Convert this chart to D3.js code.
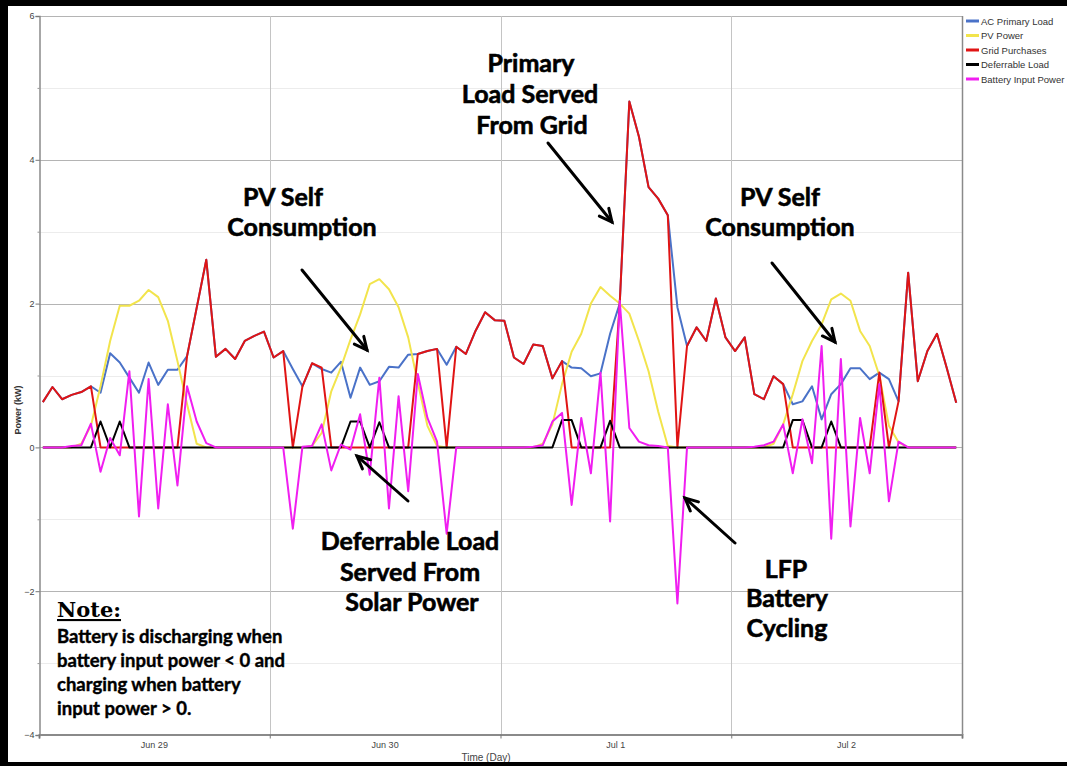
<!DOCTYPE html>
<html><head><meta charset="utf-8">
<script src="https://cdn.jsdelivr.net/npm/d3@7"></script>
<style>body{margin:0;background:#fff}svg{display:block}</style>
</head><body>
<svg id="c" width="1067" height="766"></svg>
<script>
// ---- DATA (hourly, Jun 29 00:00 .. Jul 2 23:00) ----
const dayLabels = ["Jun 29", "Jun 30", "Jul 1", "Jul 2"];
const yTicks = [-4, -2, 0, 2, 4, 6];
const seriesNames = ["AC Primary Load", "PV Power", "Grid Purchases", "Deferrable Load", "Battery Input Power"];

const acPrimaryLoad = [
 0.63,0.84,0.67,0.73,0.77,0.85,0.76,1.31,1.18,0.97,0.76,1.18,0.87,1.08,1.08,1.27,1.94,2.61,1.26,1.37,1.23,1.48,1.55,1.61,
 1.25,1.34,1.09,0.85,1.17,1.09,1.04,1.19,0.69,1.11,0.87,0.92,1.12,1.11,1.29,1.30,1.34,1.37,1.15,1.40,1.30,1.62,1.88,1.77,
 1.76,1.25,1.16,1.43,1.41,0.96,1.20,1.11,1.10,0.99,1.03,1.58,2.00,4.81,4.32,3.62,3.46,3.23,1.95,1.41,1.67,1.48,2.07,1.53,
 1.34,1.53,0.74,0.67,0.99,0.88,0.60,0.64,0.85,0.39,0.74,0.88,1.10,1.10,0.95,1.04,0.95,0.64,2.43,0.92,1.34,1.58,1.11,0.62];
const pvPower = [
 0,0,0,0,0.05,0.30,0.85,1.48,1.97,1.97,2.04,2.19,2.09,1.76,1.20,0.60,0.05,0,0,0,0,0,0,0,
 0,0,0,0,0.02,0.20,0.78,1.11,1.50,1.85,2.27,2.34,2.20,1.95,1.53,0.90,0.30,0.02,0,0,0,0,0,0,
 0,0,0,0,0.05,0.32,0.88,1.33,1.58,2.00,2.23,2.11,2.00,1.86,1.48,1.06,0.50,0.02,0,0,0,0,0,0,
 0,0,0,0,0.05,0.32,0.74,1.20,1.48,1.71,2.06,2.14,2.04,1.62,1.41,1.00,0.30,0.07,0,0,0,0,0,0];
const gridPurchases = [
 0.63,0.84,0.67,0.73,0.77,0.85,0,0,0,0,0,0,0,0,0,1.27,1.94,2.61,1.26,1.37,1.23,1.48,1.55,1.61,
 1.25,1.34,0,0.85,1.17,1.11,0,0,0,0,0,0,0,0,0,1.30,1.34,1.37,0,1.40,1.30,1.62,1.88,1.77,
 1.76,1.25,1.16,1.43,1.41,0.96,1.20,0,0,0,0,0,2.00,4.81,4.32,3.62,3.46,3.23,0,1.41,1.67,1.48,2.07,1.53,
 1.34,1.53,0.74,0.67,0.99,0.88,0,0,0,0,0,0,0,0,0,1.04,0,0.64,2.43,0.92,1.34,1.58,1.11,0.62];
const deferrableLoad = [
 0,0,0,0,0,0,0.36,0,0.36,0,0,0,0,0,0,0,0,0,0,0,0,0,0,0,
 0,0,0,0,0,0,0,0,0.36,0.36,0,0.35,0,0,0,0,0,0,0,0,0,0,0,0,
 0,0,0,0,0,0,0.38,0.38,0,0,0,0.37,0,0,0,0,0,0,0,0,0,0,0,0,
 0,0,0,0,0,0,0.38,0.38,0,0,0.36,0,0,0,0,0,0,0,0,0,0,0,0,0];
const batteryInputPower = [
 0,0,0,0.02,0.03,0.33,-0.34,0.13,-0.11,1.06,-0.96,0.95,-0.85,0.60,-0.53,0.85,0.36,0.06,0,0,0,0,0,0,
 0,0,-1.13,0.01,0.02,0.32,-0.32,0.04,-0.03,0.46,-0.38,0.97,-0.85,0.71,-0.61,1.02,0.41,0.08,-1.20,0,0,0,0,0,
 0,0,0,0.01,0.03,0.36,0.48,-0.80,0.41,-0.36,1.04,-1.03,2.04,0.27,0.08,0.03,0.02,0,-2.17,0,0,0,0,0,
 0,0,0.01,0.03,0.08,0.32,-0.36,0.39,-0.22,1.41,-1.27,1.23,-1.10,0.41,-0.36,0.88,-0.75,0.08,0,0,0,0,0,0];
const seriesColors = ["#4a72c8", "#f2e44c", "#e01414", "#000000", "#f01ef0"];

(function () {
const svg = d3.select("#c");
const W = 1067, H = 766;
const pL = 39, pR = 962, pT = 16, pB = 735;
const x = d3.scaleLinear().domain([0, 96]).range([pL, pR]);
const y = d3.scaleLinear().domain([-4, 6]).range([pB, pT]);

svg.append("rect").attr("width", W).attr("height", H).attr("fill", "#fff");

const g = svg.append("g");
g.selectAll("line.minor").data(d3.range(-3, 6, 2)).join("line")
  .attr("x1", pL).attr("x2", pR).attr("y1", d => Math.round(y(d)) + 0.5).attr("y2", d => Math.round(y(d)) + 0.5)
  .attr("stroke", "#ececec").attr("stroke-width", 1);
g.selectAll("line.major").data(yTicks.slice(1)).join("line")
  .attr("x1", pL).attr("x2", pR).attr("y1", d => Math.round(y(d)) + 0.5).attr("y2", d => Math.round(y(d)) + 0.5)
  .attr("stroke", "#b4b4b4").attr("stroke-width", 1);
g.selectAll("line.vgrid").data([24, 48, 72]).join("line")
  .attr("x1", d => Math.round(x(d)) + 0.5).attr("x2", d => Math.round(x(d)) + 0.5)
  .attr("y1", pT).attr("y2", pB)
  .attr("stroke", "#c4c4c4").attr("stroke-width", 1);

const yAxis = d3.axisLeft(y).tickValues(yTicks).tickSize(4).tickFormat(d3.format("d"));
const ya = svg.append("g").attr("transform", `translate(${pL + 0.5},0)`).call(yAxis);
ya.select(".domain").attr("stroke", "#8a8a8a").attr("stroke-width", 1.5);
ya.selectAll(".tick line").attr("stroke", "#777");
ya.selectAll(".tick text").attr("font-family", "Liberation Sans, Arial, sans-serif").attr("font-size", 9).attr("fill", "#444").attr("x", -5);
const yMinor = d3.axisLeft(y).tickValues(d3.range(-3, 6, 2)).tickSize(2).tickFormat("");
const ym = svg.append("g").attr("transform", `translate(${pL + 0.5},0)`).call(yMinor);
ym.select(".domain").remove();
ym.selectAll(".tick line").attr("stroke", "#999");

const xAxis = d3.axisBottom(x).tickValues([0, 24, 48, 72, 96]).tickSize(4).tickFormat("");
const xa = svg.append("g").attr("transform", `translate(0,${pB - 0.5})`).call(xAxis);
xa.select(".domain").attr("stroke", "#8a8a8a").attr("stroke-width", 2);
xa.selectAll(".tick line").attr("stroke", "#777");
svg.append("g").selectAll("text").data(dayLabels).join("text")
  .attr("x", (d, i) => x(12 + 24 * i)).attr("y", 748)
  .attr("text-anchor", "middle").attr("font-family", "Liberation Sans Narrow, Liberation Sans, Arial, sans-serif")
  .attr("font-size", 9).attr("fill", "#444").text(d => d);
svg.append("line").attr("x1", pR + 0.5).attr("x2", pR + 0.5).attr("y1", pT).attr("y2", pB)
  .attr("stroke", "#8a8a8a").attr("stroke-width", 1.5);

svg.append("text").attr("x", 486).attr("y", 761).attr("text-anchor", "middle")
  .attr("font-family", "Liberation Sans Narrow, Liberation Sans, Arial, sans-serif").attr("font-size", 10).attr("fill", "#444").text("Time (Day)");
svg.append("text").attr("transform", "translate(21,410) rotate(-90)").attr("text-anchor", "middle")
  .attr("font-family", "Liberation Sans, Arial, sans-serif").attr("font-size", 9).attr("font-weight", "bold").attr("fill", "#333").text("Power (kW)");

const allSeries = [acPrimaryLoad, pvPower, gridPurchases, deferrableLoad, batteryInputPower];
const line = d3.line().x((d, i) => x(i + 0.4)).y(d => y(d));
const plot = svg.append("g");
allSeries.forEach((s, k) => {
  plot.append("path").datum(s).attr("d", line).attr("fill", "none")
    .attr("stroke", seriesColors[k]).attr("stroke-width", 2).attr("stroke-linejoin", "round");
});

const lg = svg.append("g");
seriesNames.forEach((n, k) => {
  const yy = 21 + k * 14.5;
  lg.append("line").attr("x1", 966).attr("x2", 979).attr("y1", yy).attr("y2", yy)
    .attr("stroke", seriesColors[k]).attr("stroke-width", 3);
  lg.append("text").attr("x", 981).attr("y", yy + 3.5).attr("font-family", "Liberation Sans, Arial, sans-serif")
    .attr("font-size", 9.5).attr("fill", "#333").text(n);
});

const ann = svg.append("g").attr("font-family", "Lato, Carlito, sans-serif").attr("font-weight", "bold")
  .attr("font-size", 25).attr("fill", "#000").attr("stroke", "#000").attr("stroke-width", 0.6)
  .attr("text-anchor", "middle");
const notes = [
  [531, 72, "Primary"], [530, 103, "Load Served"], [532, 134, "From Grid"],
  [283, 206, "PV Self"], [302, 236, "Consumption"],
  [780, 206, "PV Self"], [780, 236, "Consumption"],
  [410, 550, "Deferrable Load"], [410, 581, "Served From"], [412, 611, "Solar Power"],
  [786, 578, "LFP"], [787, 607, "Battery"], [787, 637, "Cycling"]
];
notes.forEach(([tx, ty, t]) => ann.append("text").attr("x", tx).attr("y", ty).text(t));

const arrows = [[548, 143, 612, 222], [302, 270, 367, 350], [408, 501, 357, 456], [772, 263, 835, 342], [735, 543, 685, 498]];
const ag = svg.append("g").attr("stroke", "#000").attr("stroke-width", 3).attr("fill", "none").attr("stroke-linecap", "round");
arrows.forEach(([x1, y1, x2, y2]) => {
  ag.append("line").attr("x1", x1).attr("y1", y1).attr("x2", x2).attr("y2", y2);
  const a = Math.atan2(y2 - y1, x2 - x1), L = 14, s = 0.45;
  ag.append("polyline").attr("points", [
    [x2 - L * Math.cos(a - s), y2 - L * Math.sin(a - s)], [x2, y2], [x2 - L * Math.cos(a + s), y2 - L * Math.sin(a + s)]
  ].map(p => p.join(",")).join(" "));
});

svg.append("text").attr("x", 57).attr("y", 617).attr("font-family", "DejaVu Serif, serif").attr("font-weight", "bold")
  .attr("font-size", 21).attr("text-decoration", "underline").attr("fill", "#000").text("Note:");
const noteLines = ["Battery is discharging when", "battery input power < 0 and", "charging when battery", "input power > 0."];
svg.append("g").selectAll("text").data(noteLines).join("text")
  .attr("x", 57).attr("y", (d, i) => 643 + i * 24).attr("font-family", "Lato, sans-serif").attr("font-weight", "bold")
  .attr("font-size", 18.5).attr("fill", "#000").attr("stroke", "#000").attr("stroke-width", 0.4).text(d => d);

svg.append("path").attr("d", `M0,0H${W}V${H}H0Z M8,6H${W}V762H8Z`).attr("fill", "#000").attr("fill-rule", "evenodd");
})();
</script>
</body></html>
